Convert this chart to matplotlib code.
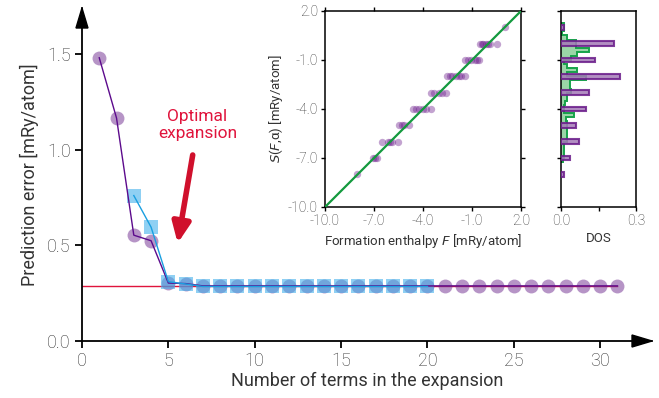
import matplotlib
matplotlib.use("Agg")
import matplotlib.pyplot as plt
from matplotlib.patches import Polygon
import numpy as np

plt.rcParams['font.family'] = ['Roboto', 'DejaVu Sans']
plt.rcParams['font.weight'] = 'light'
TXT = '#333333'

# ---------------- data ----------------
n_terms_full = list(range(1, 32))
err_full = [1.48, 1.165, 0.553, 0.524, 0.303, 0.300] + [0.288] * 25
n_terms_sub = list(range(3, 21))
err_sub = [0.760, 0.595, 0.310, 0.298] + [0.285] * 14
optimal_err = 0.29
x_ticks = [0, 5, 10, 15, 20, 25, 30]
y_ticks = [0.0, 0.5, 1.0, 1.5]

# inset scatter: predicted level vs formation enthalpy
sc_levels = [1, 0, -1, -2, -3, -4, -5, -6, -7, -8]
sc_x = [
    [1.0],
    [-0.5, -0.4, -0.3, -0.15, -0.05, 0.1, 0.5],
    [-1.43, -1.25, -1.05, -0.8, -0.7, -0.55],
    [-2.55, -2.35, -2.2, -2.0, -1.8, -1.65, -1.45],
    [-3.5, -3.3, -3.05, -2.85, -2.6],
    [-4.6, -4.4, -4.25, -4.0, -3.8, -3.5],
    [-5.45, -5.3, -5.15, -4.85],
    [-6.5, -6.15, -6.0, -5.9, -5.55],
    [-7.05, -6.95, -6.8],
    [-8.07],
]
inset_ticks = [-10, -7, -4, -1, 2]

# DOS histograms
dos_purple_levels = [1, 0, -1, -2, -3, -4, -5, -6, -7, -8]
dos_purple_vals = [0.012, 0.212, 0.137, 0.236, 0.113, 0.100, 0.060, 0.073, 0.037, 0.012]
dos_green_edges = np.arange(-7.25, 1.26, 0.25)   # bin edges, bottom to top
dos_green_vals = [0.008, 0.012, 0.012, 0.012, 0.012, 0.025, 0.023, 0.025, 0.023, 0.023,
                  0.020, 0.050, 0.012, 0.012, 0.016, 0.025, 0.025, 0.040, 0.036, 0.036,
                  0.100, 0.023, 0.063, 0.025, 0.012, 0.040, 0.063, 0.113, 0.060, 0.060,
                  0.025, 0.004, 0.012, 0.010]

# ---------------- figure ----------------
fig = plt.figure(figsize=(6.59, 3.98), dpi=100)
ax = fig.add_axes([0.1244, 0.1432, 0.865, 0.8367])

purple_m = '#7a3d98'
purple_l = '#5c0a8c'
blue_m = '#44b1eb'
blue_l = '#1a9fe0'
red = '#e0143c'

ax.plot([0, 31], [optimal_err, optimal_err], color=red, lw=1.0, zorder=1)
ax.plot(n_terms_full, err_full, 'o', color=purple_m, alpha=0.55, ms=10, mew=0, zorder=2)
ax.plot(n_terms_sub, err_sub, 's', color=blue_m, alpha=0.6, ms=9.5, mew=0, zorder=3)
ax.plot(n_terms_full, err_full, '-', color=purple_l, lw=1.0, zorder=4)
ax.plot(n_terms_sub, err_sub, '-', color=blue_l, lw=1.0, zorder=4)

ax.set_xlim(0, 33)
ax.set_ylim(0, 1.74)
ax.set_xticks(x_ticks)
ax.set_yticks(y_ticks)
ax.set_yticklabels([f'{v:.1f}' for v in y_ticks])
for s in ['top', 'right']:
    ax.spines[s].set_visible(False)
for s in ['left', 'bottom']:
    ax.spines[s].set_linewidth(1.3)
ax.tick_params(direction='out', length=5, width=1.3, labelsize=13, labelcolor=TXT, pad=3)
ax.set_xlabel('Number of terms in the expansion', fontsize=13, color=TXT, labelpad=1)
ax.set_ylabel('Prediction error [mRy/atom]', fontsize=13, color=TXT, labelpad=6)

# arrow heads
aw, ah = 570.0, 333.0
ax.add_patch(Polygon([[1.0, 0.0], [1 - 20 / aw, 6 / ah], [1 - 20 / aw, -6 / ah]],
                     closed=True, transform=ax.transAxes, color='black', clip_on=False, zorder=5))
ax.add_patch(Polygon([[0.0, 1.0], [-6 / aw, 1 - 20 / ah], [6 / aw, 1 - 20 / ah]],
                     closed=True, transform=ax.transAxes, color='black', clip_on=False, zorder=5))

ax.text(6.69, 1.13, 'Optimal\nexpansion', color=red, fontsize=12.5, ha='center',
        va='center', linespacing=1.15, fontweight='normal')
ax.annotate('', xy=(5.54, 0.511), xytext=(6.41, 0.972),
            arrowprops=dict(arrowstyle='-|>,head_length=1.0,head_width=0.45',
                            color='#d0102c', lw=4, shrinkA=0, shrinkB=0, mutation_scale=12))

# ---------------- inset 1 ----------------
ax1 = fig.add_axes([0.4932, 0.4799, 0.2974, 0.4925])
for lvl, xs in zip(sc_levels, sc_x):
    ax1.plot(xs, [lvl] * len(xs), 'o', color='#6a1b8a', alpha=0.4, ms=5.3, mew=0, zorder=2)
ax1.plot([-10, 2], [-10, 2], color='#139a3e', lw=1.6, zorder=3)
ax1.set_xlim(-10, 2)
ax1.set_ylim(-10, 2)
ax1.set_xticks(inset_ticks)
ax1.set_yticks(inset_ticks)
ax1.set_xticklabels([f'{v:.1f}' for v in inset_ticks])
ax1.set_yticklabels([f'{v:.1f}' for v in inset_ticks])
ax1.tick_params(direction='out', length=3, width=1, labelsize=10, labelcolor=TXT, pad=2,
                top=True, right=True)
for s in ax1.spines.values():
    s.set_linewidth(1.1)
ax1.set_xlabel('Formation enthalpy $F$ [mRy/atom]', fontsize=9.5, color=TXT, labelpad=3)
ax1.set_ylabel('$S$($F$,α) [mRy/atom]', fontsize=9.5, color=TXT, labelpad=2)

# ---------------- inset 2 (DOS) ----------------
ax2 = fig.add_axes([0.8513, 0.4799, 0.1138, 0.4925])
ax2.stairs(dos_green_vals, dos_green_edges, orientation='horizontal', fill=True,
           color='#8fd19e', alpha=0.9, zorder=1)
ax2.stairs(dos_green_vals, dos_green_edges, orientation='horizontal', fill=False,
           color='#17a34a', lw=1.4, zorder=2)
ax2.barh(dos_purple_levels, dos_purple_vals, height=0.28, color='#a57bb8', alpha=0.85,
         edgecolor='#6a1b8a', linewidth=1.5, zorder=3)
ax2.set_xlim(0, 0.3)
ax2.set_ylim(-10, 2)
ax2.set_yticks(inset_ticks)
ax2.set_yticklabels([])
ax2.set_xticks([0, 0.15, 0.3])
ax2.set_xticklabels(['0.0', '', '0.3'])
ax2.tick_params(direction='out', length=3, width=1, labelsize=10, labelcolor=TXT, pad=2)
for s in ax2.spines.values():
    s.set_linewidth(1.1)
ax2.set_xlabel('DOS', fontsize=9.5, color=TXT, labelpad=3)

fig.savefig('out.png', dpi=100)
